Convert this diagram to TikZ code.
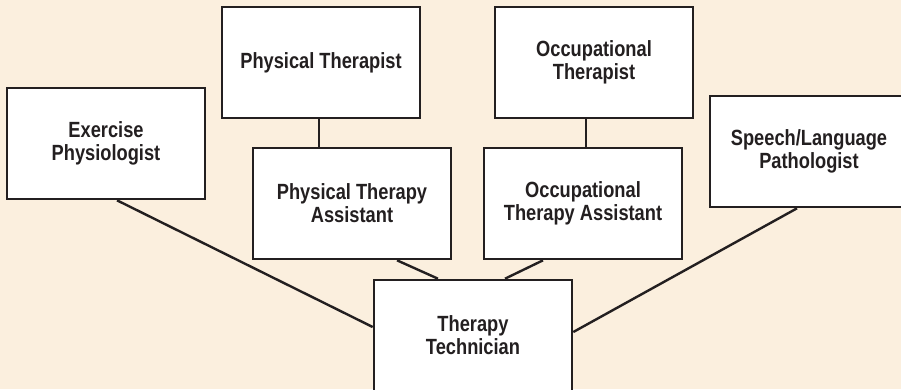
\documentclass[tikz,border=0pt]{standalone}
\usepackage{fontspec}
\newfontfamily\jobfont{Liberation Sans}[FakeStretch=0.83]

\definecolor{paper}{HTML}{FBEFDE}
\definecolor{ink}{HTML}{231F20}

\tikzset{
  job/.style={draw=ink, fill=white, line width=2.6pt, rectangle,
    minimum width=198pt, minimum height=111pt, inner sep=0pt,
    align=center, text=ink,
    font=\jobfont\bfseries\fontsize{22}{23}\selectfont},
  link/.style={draw=ink, line width=2.4pt}
}

\begin{document}
\begin{tikzpicture}[x=1pt,y=-1pt]
  \clip (0,0) rectangle (901,389);
  \fill[paper] (0,0) rectangle (901,389);

  % the boxes
  \node[job] (ep)  at (106,143.5) {Exercise\\Physiologist};
  \node[job] (pt)  at (321,62.5)  {Physical Therapist};
  \node[job] (pta) at (352,203.5) {Physical Therapy\\Assistant};
  \node[job] (ot)  at (594,62.5)  {Occupational\\Therapist};
  \node[job] (ota) at (583,203.5) {Occupational\\Therapy Assistant};
  \node[job] (slp) at (809,151.5) {Speech/Language\\Pathologist};
  \node[job] (tt)  at (473,335.5) {Therapy\\Technician};

  % the links
  \draw[link] ([xshift=-2pt]pt.south) -- ([xshift=-33pt]pta.north);
  \draw[link] ([xshift=-8pt]ot.south) -- ([xshift=3pt]ota.north);
  \draw[link] ([xshift=11pt]ep.south) -- ([yshift=8.5pt]tt.west);
  \draw[link] ([xshift=45pt]pta.south) -- ([xshift=-35pt]tt.north);
  \draw[link] ([xshift=-40pt]ota.south) -- ([xshift=32pt]tt.north);
  \draw[link] ([xshift=-12pt]slp.south) -- ([yshift=3.5pt]tt.east);
\end{tikzpicture}
\end{document}
